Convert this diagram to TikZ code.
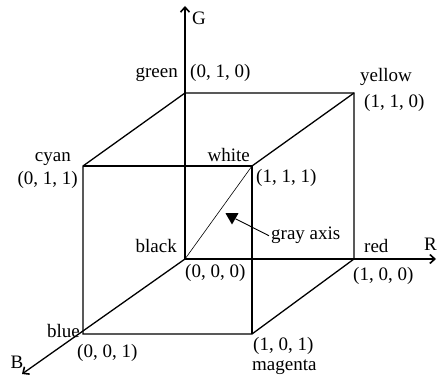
\documentclass[tikz,border=0pt]{standalone}
\usepackage{fontspec}
\setmainfont{Liberation Serif}
\usetikzlibrary{arrows.meta,shapes.geometric}
\begin{document}
\begin{tikzpicture}[x=1pt,y=-1pt,
  edge/.style={line width=1.3pt},
  axisline/.style={line width=1.3pt,-{Straight Barb[length=5pt,width=9pt,line width=1.6pt]}},
  lbl/.style={inner sep=0pt,font=\fontsize{19}{22}\selectfont},
  thin line/.style={line width=0.6pt}]
\useasboundingbox (0,0) rectangle (437,377);
% cube vertices
\coordinate (O) at (185,259);
\coordinate (R) at (354,259);
\coordinate (G) at (185,93);
\coordinate (Y) at (354,93);
\coordinate (C) at (83,166);
\coordinate (W) at (252,166);
\coordinate (Bl) at (83,334);
\coordinate (M) at (252,334);
% axis ends
\coordinate (Gend) at (185,6);
\coordinate (Rend) at (436,259);
\coordinate (Bend) at (22,374);
% axes
\draw[axisline] (O) -- (Gend);
\draw[axisline] (O) -- (Rend);
\draw[axisline] (O) -- (Bend);
% edges
\draw[edge] (G) -- (Y) -- (R) -- (M) -- (Bl) -- (C) -- (G);
\draw[edge] (C) -- (W) -- (M);
\draw[edge] (Y) -- (W);
% gray axis
\draw[thin line] (O) -- (W);
\node[regular polygon,regular polygon sides=3,shape border rotate=180,fill=black,inner sep=0pt,minimum size=15pt] (tri) at (232,217) {};
\node[lbl,anchor=base west] (ga) at (271,240) {gray axis};
\draw[line width=0.9pt] ([xshift=-2pt]ga.west) -- (tri);
% axis labels
\node[lbl,anchor=base west] (gl) at (192,25) {G};
\node[lbl,anchor=base east] (rl) at (437,251) {R};
\node[lbl,anchor=base] (bl) at (17,368) {B};
% vertex labels
\node[lbl,anchor=base east] (green) at (178,78) {green};
\node[lbl,anchor=base west] (g010) at (190,78) {(0, 1, 0)};
\node[lbl,anchor=base west] (yellow) at (360,82) {yellow};
\node[lbl,anchor=base west] (y110) at (364,108) {(1, 1, 0)};
\node[lbl,anchor=base east] (cyan) at (71,162) {cyan};
\node[lbl,anchor=base east] (c011) at (78,185) {(0, 1, 1)};
\node[lbl,anchor=base east] (white) at (250,162) {white};
\node[lbl,anchor=base west] (w111) at (256,183) {(1, 1, 1)};
\node[lbl,anchor=base east] (black) at (177,253) {black};
\node[lbl,anchor=base west] (k000) at (185,278) {(0, 0, 0)};
\node[lbl,anchor=base west] (red) at (364,253) {red};
\node[lbl,anchor=base west] (r100) at (353,280) {(1, 0, 0)};
\node[lbl,anchor=base east] (blue) at (80,337) {blue};
\node[lbl,anchor=base west] (b001) at (77,357) {(0, 0, 1)};
\node[lbl,anchor=base west] (m101) at (253,350) {(1, 0, 1)};
\node[lbl,anchor=base west] (magenta) at (252,370) {magenta};
\end{tikzpicture}
\end{document}
